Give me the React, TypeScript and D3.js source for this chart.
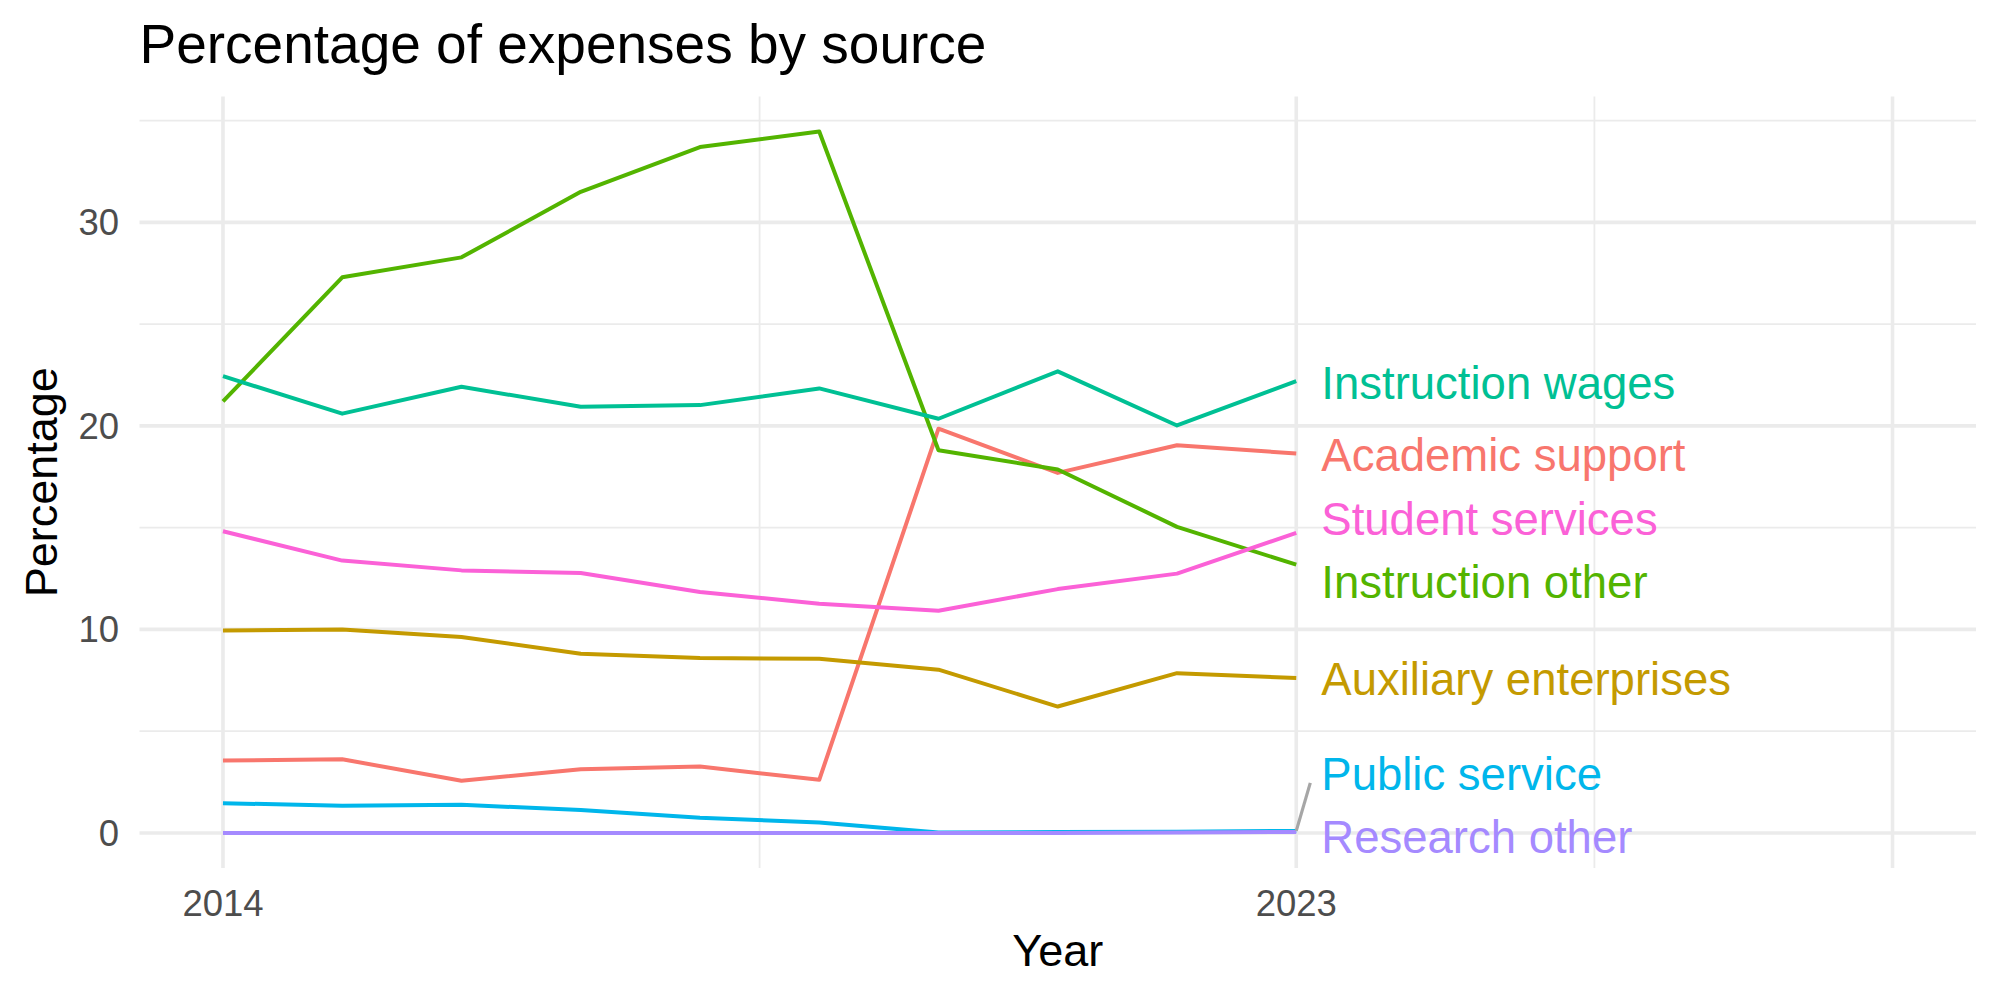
import React from "react";
import * as d3 from "d3";

const years = [2014, 2015, 2016, 2017, 2018, 2019, 2020, 2021, 2022, 2023];

const categories = [
  "Academic support",
  "Auxiliary enterprises",
  "Instruction other",
  "Instruction wages",
  "Public service",
  "Research other",
  "Student services",
];

const colors = ["#F8766D", "#C49A00", "#53B400", "#00C094", "#00B6EB", "#A58AFF", "#FB61D7"];

const academicSupport = [3.56, 3.62, 2.56, 3.13, 3.26, 2.61, 19.86, 17.69, 19.05, 18.64];
const auxiliaryEnterprises = [9.94, 9.99, 9.63, 8.8, 8.59, 8.56, 8.02, 6.21, 7.85, 7.61];
const instructionOther = [21.2, 27.3, 28.28, 31.5, 33.7, 34.46, 18.8, 17.86, 15.04, 13.18];
const instructionWages = [22.44, 20.6, 21.92, 20.94, 21.02, 21.84, 20.35, 22.68, 20.02, 22.2];
const publicService = [1.46, 1.34, 1.38, 1.13, 0.75, 0.51, 0.02, 0.04, 0.06, 0.1];
const researchOther = [0, 0, 0, 0, 0, 0, 0, 0, 0.02, 0.05];
const studentServices = [14.82, 13.38, 12.9, 12.77, 11.84, 11.26, 10.92, 11.98, 12.74, 14.74];

const seriesValues = [
  academicSupport,
  auxiliaryEnterprises,
  instructionOther,
  instructionWages,
  publicService,
  researchOther,
  studentServices,
];

// label anchor positions (data units) as placed by the repel algorithm
const labelYear = 2023.21;
const labelValues = [18.59, 7.57, 12.36, 22.14, 2.9, -0.2, 15.46];
const labelHasSegment = [false, false, false, false, true, false, false];

const xLimits = [2014, 2028];
const xMajorBreaks = [2014, 2023, 2028];
const xMinorBreaks = [2018.5, 2025.5];
const xTickLabels = ["2014", "2023", ""];
const yMajorBreaks = [0, 10, 20, 30];
const yMinorBreaks = [5, 15, 25, 35];

const title = "Percentage of expenses by source";
const xTitle = "Year";
const yTitle = "Percentage";

export default function App() {
  const W = 2000;
  const H = 1000;
  const panel = { left: 139.5, right: 1976, top: 96.5, bottom: 868 };

  const xPad = (xLimits[1] - xLimits[0]) * 0.05;
  const x = d3
    .scaleLinear()
    .domain([xLimits[0] - xPad, xLimits[1] + xPad])
    .range([panel.left, panel.right]);

  const allVals = seriesValues.flat();
  const yMin = d3.min(allVals) as number;
  const yMax = d3.max(allVals) as number;
  const yPad = (yMax - yMin) * 0.05;
  const y = d3
    .scaleLinear()
    .domain([yMin - yPad, yMax + yPad])
    .range([panel.bottom, panel.top]);

  const line = d3
    .line<number>()
    .x((_, i) => x(years[i]))
    .y((d) => y(d));

  const font = "'Liberation Sans', Arial, Helvetica, sans-serif";
  const gridColor = "#EBEBEB";
  const labelSize = 45.5;

  return (
    <svg width={W} height={H} style={{ display: "block", position: "absolute", left: 0, top: 0 }} fontFamily={font}>
      <rect x={0} y={0} width={W} height={H} fill="#FFFFFF" />
      {/* minor grid */}
      {yMinorBreaks.map((v) => (
        <line key={"ym" + v} x1={panel.left} x2={panel.right} y1={y(v)} y2={y(v)} stroke={gridColor} strokeWidth={1.8} />
      ))}
      {xMinorBreaks.map((v) => (
        <line key={"xm" + v} x1={x(v)} x2={x(v)} y1={panel.top} y2={panel.bottom} stroke={gridColor} strokeWidth={1.8} />
      ))}
      {/* major grid */}
      {yMajorBreaks.map((v) => (
        <line key={"yM" + v} x1={panel.left} x2={panel.right} y1={y(v)} y2={y(v)} stroke={gridColor} strokeWidth={3.6} />
      ))}
      {xMajorBreaks.map((v) => (
        <line key={"xM" + v} x1={x(v)} x2={x(v)} y1={panel.top} y2={panel.bottom} stroke={gridColor} strokeWidth={3.6} />
      ))}

      {/* lines */}
      {seriesValues.map((vals, i) => (
        <path key={categories[i]} d={line(vals) || ""} fill="none" stroke={colors[i]} strokeWidth={4} strokeLinejoin="round" />
      ))}

      {/* label segments */}
      {categories.map((c, i) =>
        labelHasSegment[i] ? (
          <line
            key={"seg" + c}
            x1={x(years[years.length - 1])}
            y1={y(seriesValues[i][seriesValues[i].length - 1])}
            x2={x(labelYear) - 11}
            y2={y(labelValues[i]) + 9}
            stroke="#A6A6A6"
            strokeWidth={3.2}
          />
        ) : null
      )}

      {/* labels */}
      {categories.map((c, i) => (
        <text key={"lab" + c} x={x(labelYear)} y={y(labelValues[i]) + labelSize * 0.358} fontSize={labelSize} fill={colors[i]}>
          {c}
        </text>
      ))}

      {/* y tick labels */}
      {yMajorBreaks.map((v) => (
        <text key={"yt" + v} x={panel.left - 20.5} y={y(v) + 36.5 * 0.358} fontSize={36.5} fill="#4D4D4D" textAnchor="end">
          {v}
        </text>
      ))}
      {/* x tick labels */}
      {xMajorBreaks.map((v, i) => (
        <text key={"xt" + v} x={x(v)} y={915.5} fontSize={36.5} fill="#4D4D4D" textAnchor="middle">
          {xTickLabels[i]}
        </text>
      ))}

      {/* axis titles */}
      <text x={(panel.left + panel.right) / 2} y={966} fontSize={45} fill="#000000" textAnchor="middle">
        {xTitle}
      </text>
      <text
        transform={`translate(57, ${(panel.top + panel.bottom) / 2}) rotate(-90)`}
        fontSize={45}
        fill="#000000"
        textAnchor="middle"
      >
        {yTitle}
      </text>

      {/* title */}
      <text x={panel.left} y={63} fontSize={55} fill="#000000">
        {title}
      </text>
    </svg>
  );
}
